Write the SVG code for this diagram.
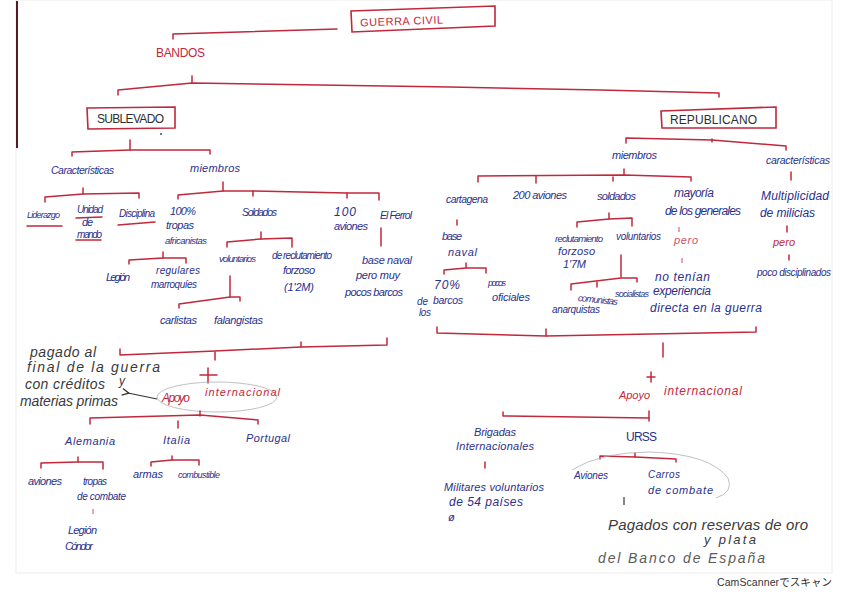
<svg xmlns="http://www.w3.org/2000/svg" width="848" height="599" viewBox="0 0 848 599">
<style>
text{font-family:"Liberation Sans","DejaVu Sans",sans-serif;font-style:italic}
.b{fill:#2a308c;font-size:11px}
.r{fill:#c3283d;font-size:11px}
.rc{fill:#c3283d;font-size:11px;font-style:normal;letter-spacing:1px}
.k{fill:#2e2e2e;font-size:12px;font-style:normal;letter-spacing:1px}
.g{fill:#3a3a3a;font-size:14px}
.ln{stroke:#c0283c;stroke-width:1.5;fill:none;stroke-linecap:round;stroke-linejoin:round}
.lp{stroke:#d86a7a;stroke-width:1.2;fill:none}
.box{stroke:#c0283c;stroke-width:1.6;fill:none}
.pen{stroke:#b0b0b0;stroke-width:0.8;fill:none}
.blk{stroke:#333;stroke-width:1.2;fill:none}
</style>
<defs>
<marker id="ah" viewBox="0 0 10 10" refX="2" refY="5" markerWidth="7" markerHeight="7" orient="auto-start-reverse">
<path d="M9,1 L1,5 L9,9" fill="none" stroke="#333" stroke-width="1.5"/>
</marker>
</defs>
<rect x="0" y="0" width="848" height="599" fill="#ffffff"/>
<rect x="16" y="0" width="816" height="573" fill="#ffffff" stroke="#ececec" stroke-width="1"/>
<line x1="17" y1="1" x2="17" y2="148" stroke="#5a1a22" stroke-width="2"/>

<g id="connectors">
<path class="ln" d="M337,29 L173,34 L173,39"/>
<path class="ln" d="M192,76 L192,83"/>
<path class="ln" d="M118,95 L118,90 L192,83 L450,87 L600,90 L719,93 L719,97"/>
<path class="ln" d="M130,140 L130,150"/>
<path class="ln" d="M72,156 L72,152 L130,150 L210,150 L210,154"/>
<path class="ln" d="M83,188 L83,194"/>
<path class="ln" d="M45,202 L45,197 L83,194 L139,193 L139,198"/>
<path class="ln" d="M27,226 L62,226"/>
<path class="ln" d="M76,218 L102,217"/>
<path class="ln" d="M76,240 L101,240"/>
<path class="ln" d="M118,225 L155,222"/>
<path class="ln" d="M223,182 L223,191"/>
<path class="ln" d="M178,199 L178,195 L223,191 L253,191 L347,193 L379,193 L379,200"/>
<path class="ln" d="M253,191 L253,196 M347,193 L347,198"/>
<path class="ln" d="M163,252 L163,258"/>
<path class="ln" d="M129,264 L129,260 L163,258 L186,258 L186,263"/>
<path class="ln" d="M261,232 L261,239"/>
<path class="ln" d="M227,247 L227,242 L261,239 L292,238 L292,247"/>
<path class="ln" d="M230,276 L230,297"/>
<path class="ln" d="M179,308 L179,304 L230,297 L240,297 L240,301"/>
<path class="ln" d="M381,228 L381,246"/>
<path class="ln" d="M120,349 L120,355 L215,351 L301,347 L387,345 L387,338"/>
<path class="ln" d="M301,347 L301,342 M215,352 L215,360"/>
<path class="ln" d="M200,375 L217,375 M208,368 L208,383" stroke-width="2"/>
<ellipse class="pen" cx="217" cy="397" rx="60" ry="15"/>
<path class="blk" d="M157,399 L128,393" marker-end="url(#ah)"/>
<path class="ln" d="M200,411 L200,416"/>
<path class="ln" d="M90,424 L90,418 L200,415 L258,420 L258,424"/>
<path class="ln" d="M178,421 L178,428"/>
<path class="ln" d="M78,457 L78,462"/>
<path class="ln" d="M41,468 L41,463 L78,462 L103,462 L103,469"/>
<path class="ln" d="M172,456 L172,460"/>
<path class="ln" d="M151,466 L151,462 L172,460 L199,460 L199,465"/>
<path class="lp" d="M93,509 L93,514"/>

<path class="ln" d="M712,139 L712,142"/>
<path class="ln" d="M626,143 L626,138 L712,140 L786,146 L786,150"/>
<path class="ln" d="M624,169 L624,175"/>
<path class="ln" d="M478,182 L478,176 L624,175 L691,177 L691,181"/>
<path class="ln" d="M536,176 L536,183 M613,177 L613,181"/>
<path class="ln" d="M791,172 L791,180"/>
<path class="ln" d="M457,220 L457,225"/>
<path class="ln" d="M466,263 L466,268"/>
<path class="ln" d="M444,274 L444,270 L466,268 L486,268 L486,273"/>
<path class="ln" d="M609,213 L609,219"/>
<path class="ln" d="M577,227 L577,222 L609,219 L632,218 L632,226"/>
<path class="ln" d="M621,255 L621,277"/>
<path class="ln" d="M571,290 L571,284 L621,278 L637,278 L637,282"/>
<path class="ln" d="M597,282 L597,287"/>
<path class="lp" d="M679,227 L679,232 M682,258 L682,263"/>
<path class="ln" d="M787,226 L787,232 M789,255 L789,260"/>
<path class="ln" d="M437,327 L437,333 L546,336 L756,332 L756,327"/>
<path class="ln" d="M546,336 L546,329"/>
<path class="ln" d="M663,343 L663,357"/>
<path class="ln" d="M647,377 L655,377 M651,372 L651,382" stroke-width="1.2"/>
<path class="ln" d="M503,412 L503,416 L649,418"/>
<path class="ln" d="M649,411 L649,421"/>
<path class="ln" d="M485,462 L485,468"/>
<path class="ln" d="M635,453 L635,457"/>
<path class="ln" d="M600,459 L600,456 L635,457 L676,459 L676,462"/>
<path class="pen" d="M572,470 Q600,452 650,452 Q710,454 728,478 Q734,492 716,498"/>
<path class="blk" d="M624,497 L624,505"/>
</g>

<g id="guerra-civil">
<path class="box" d="M351,11 L495,6 L495,26 L352,32 Z"/>
<text class="rc" x="360" y="25" textLength="84" transform="rotate(-2 400 20)">GUERRA CIVIL</text>
</g>
<g id="bandos"><text class="rc" x="156" y="57" textLength="50" style="font-size:12px">BANDOS</text></g>
<g id="sublevado">
<path class="box" d="M87,108 L175,107 L175,128 L88,129 Z"/>
<text class="k" x="97" y="123" textLength="68">SUBLEVADO</text>
</g>
<g id="republicano">
<path class="box" d="M661,111 L776,107 L776,128 L662,128 Z"/>
<text class="k" x="670" y="124" textLength="88">REPUBLICANO</text>
</g>
<circle cx="161" cy="134" r="0.9" fill="#2a308c"/>

<g id="sub-caracteristicas"><text class="b" x="51" y="174" textLength="63" style="font-size:10.5px">Características</text></g>
<g id="sub-miembros"><text class="b" x="190" y="172" textLength="50">miembros</text></g>
<g id="liderazgo"><text class="b" x="27" y="218" textLength="33" style="font-size:9px">Liderazgo</text></g>
<g id="unidad"><text class="b" x="77" y="213" textLength="26" style="font-size:10px">Unidad</text><text class="b" x="82" y="226" textLength="11">de</text><text class="b" x="77" y="238" textLength="25" style="font-size:10px">mando</text></g>
<g id="disciplina"><text class="b" x="119" y="217" textLength="36" style="font-size:10px">Disciplina</text></g>
<g id="tropas-africanistas"><text class="b" x="170" y="215" textLength="26">100%</text><text class="b" x="166" y="229" textLength="28">tropas</text><text class="b" x="165" y="244" textLength="42" style="font-size:9.5px">africanistas</text></g>
<g id="sub-soldados"><text class="b" x="242" y="216" textLength="35" style="font-size:10.5px">Soldados</text></g>
<g id="sub-aviones"><text class="b" x="334" y="216" textLength="22" style="font-size:12px">100</text><text class="b" x="334" y="230" textLength="34">aviones</text></g>
<g id="ferrol"><text class="b" x="380" y="219" textLength="32" style="font-size:10.5px">El Ferrol</text></g>
<g id="legion"><text class="b" x="106" y="281" textLength="24">Legión</text></g>
<g id="regulares"><text class="b" x="156" y="274" textLength="44" style="font-size:10px">regulares</text><text class="b" x="151" y="288" textLength="46" style="font-size:10px">marroquíes</text></g>
<g id="sub-voluntarios"><text class="b" x="219" y="262" textLength="37" style="font-size:9.5px">voluntarios</text></g>
<g id="sub-reclutamiento"><text class="b" x="272" y="259" textLength="60" style="font-size:10px">de reclutamiento</text><text class="b" x="283" y="274" textLength="32">forzoso</text><text class="b" x="284" y="291" textLength="30">(1'2M)</text></g>
<g id="base-naval"><text class="b" x="362" y="264" textLength="50">base naval</text><text class="b" x="356" y="279" textLength="44">pero muy</text><text class="b" x="345" y="296" textLength="58">pocos barcos</text></g>
<g id="carlistas"><text class="b" x="160" y="324" textLength="37">carlistas</text></g>
<g id="falangistas"><text class="b" x="214" y="324" textLength="49">falangistas</text></g>
<g id="nota-pago"><text class="g" x="30" y="357" textLength="66">pagado al</text><text class="g" x="27" y="372" textLength="133">final de la guerra</text><text class="g" x="25" y="389" textLength="80">con créditos</text><text class="g" x="119" y="385" textLength="11" style="font-size:12px">y</text><text class="g" x="20" y="406" textLength="98">materias primas</text></g>
<g id="sub-apoyo"><text class="r" x="162" y="402" textLength="28" style="font-size:12px">Apoyo</text><text class="r" x="205" y="396" textLength="75">internacional</text></g>
<g id="alemania"><text class="b" x="65" y="445" textLength="50">Alemania</text></g>
<g id="italia"><text class="b" x="163" y="444" textLength="27">Italia</text></g>
<g id="portugal"><text class="b" x="246" y="442" textLength="44">Portugal</text></g>
<g id="ale-aviones"><text class="b" x="28" y="485" textLength="34">aviones</text></g>
<g id="ale-tropas"><text class="b" x="83" y="485" textLength="24" style="font-size:10px">tropas</text><text class="b" x="77" y="500" textLength="49" style="font-size:10px">de combate</text></g>
<g id="ita-armas"><text class="b" x="133" y="478" textLength="30">armas</text></g>
<g id="ita-combustible"><text class="b" x="178" y="478" textLength="42" style="font-size:9px">combustible</text></g>
<g id="legion-condor"><text class="b" x="68" y="534" textLength="29">Legión</text><text class="b" x="65" y="550" textLength="28">Cóndor</text></g>

<g id="rep-miembros"><text class="b" x="612" y="159" textLength="45">miembros</text></g>
<g id="rep-caracteristicas"><text class="b" x="766" y="164" textLength="64" style="font-size:10.5px">características</text></g>
<g id="cartagena"><text class="b" x="446" y="203" textLength="42" style="font-size:10.5px">cartagena</text></g>
<g id="rep-aviones"><text class="b" x="513" y="199" textLength="54">200 aviones</text></g>
<g id="rep-soldados"><text class="b" x="597" y="200" textLength="39">soldados</text></g>
<g id="generales"><text class="b" x="674" y="197" textLength="40" style="font-size:12px">mayoría</text><text class="b" x="665" y="215" textLength="76" style="font-size:12px">de los generales</text></g>
<g id="milicias"><text class="b" x="761" y="200" textLength="68" style="font-size:12px">Multiplicidad</text><text class="b" x="760" y="217" textLength="55" style="font-size:12px">de milicias</text></g>
<g id="rep-base-naval"><text class="b" x="442" y="240" textLength="20">base</text><text class="b" x="448" y="256" textLength="29">naval</text></g>
<g id="rep-reclutamiento"><text class="b" x="555" y="242" textLength="48" style="font-size:9.5px">reclutamiento</text><text class="b" x="558" y="255" textLength="37">forzoso</text><text class="b" x="563" y="268" textLength="23">1'7M</text></g>
<g id="rep-voluntarios"><text class="b" x="616" y="240" textLength="45" style="font-size:10px">voluntarios</text></g>
<g id="pero-generales"><text class="r" x="674" y="244" textLength="24" style="fill:#d0506a">pero</text></g>
<g id="pero-milicias"><text class="r" x="773" y="246" textLength="22">pero</text></g>
<g id="experiencia"><text class="b" x="655" y="281" textLength="55" style="font-size:12px">no tenían</text><text class="b" x="653" y="295" textLength="58" style="font-size:12px">experiencia</text><text class="b" x="650" y="312" textLength="112" style="font-size:12px">directa en la guerra</text></g>
<g id="disciplinados"><text class="b" x="757" y="276" textLength="74" style="font-size:10px">poco disciplinados</text></g>
<g id="barcos"><text class="b" x="434" y="289" textLength="26" style="font-size:12px">70%</text><text class="b" x="417" y="305" textLength="11" style="font-size:10px">de</text><text class="b" x="433" y="304" textLength="30" style="font-size:10.5px">barcos</text><text class="b" x="419" y="316" textLength="12" style="font-size:10px">los</text></g>
<g id="oficiales"><text class="b" x="488" y="286" textLength="18" style="font-size:9px">pocos</text><text class="b" x="492" y="301" textLength="38">oficiales</text></g>
<g id="socialistas"><text class="b" x="615" y="297" textLength="34" style="font-size:9px">socialistas</text></g>
<g id="comunistas"><text class="b" x="578" y="303" textLength="40" style="font-size:9.5px" transform="rotate(6 598 300)">comunistas</text></g>
<g id="anarquistas"><text class="b" x="552" y="313" textLength="48" style="font-size:10px">anarquistas</text></g>
<g id="rep-apoyo"><text class="r" x="619" y="399" textLength="31">Apoyo</text><text class="r" x="664" y="395" textLength="78" style="font-size:12px">internacional</text></g>
<g id="brigadas"><text class="b" x="474" y="436" textLength="42">Brigadas</text><text class="b" x="456" y="450" textLength="78">Internacionales</text></g>
<g id="urss"><text class="b" x="626" y="441" textLength="31" style="font-size:12px;font-style:normal">URSS</text></g>
<g id="urss-aviones"><text class="b" x="574" y="479" textLength="34" style="font-size:10px">Aviones</text></g>
<g id="carros"><text class="b" x="648" y="478" textLength="32" style="font-size:10px">Carros</text><text class="b" x="648" y="494" textLength="65">de combate</text></g>
<g id="militares"><text class="b" x="444" y="491" textLength="100">Militares voluntarios</text><text class="b" x="449" y="506" textLength="74" style="font-size:12px">de 54 países</text><text class="b" x="448" y="521">ø</text></g>
<g id="pagados"><text class="g" x="608" y="530" textLength="200" style="font-size:15px">Pagados con reservas de oro</text><text class="g" x="704" y="544" textLength="52" style="font-size:13px">y plata</text><text class="g" x="598" y="563" textLength="167" style="font-size:14px;fill:#5a5a5a">del Banco de España</text></g>

<text x="717" y="586" fill="#333" style="font-size:10.5px;font-style:normal;font-family:'Liberation Sans','Noto Sans CJK JP',sans-serif" textLength="115">CamScannerでスキャン</text>
</svg>
